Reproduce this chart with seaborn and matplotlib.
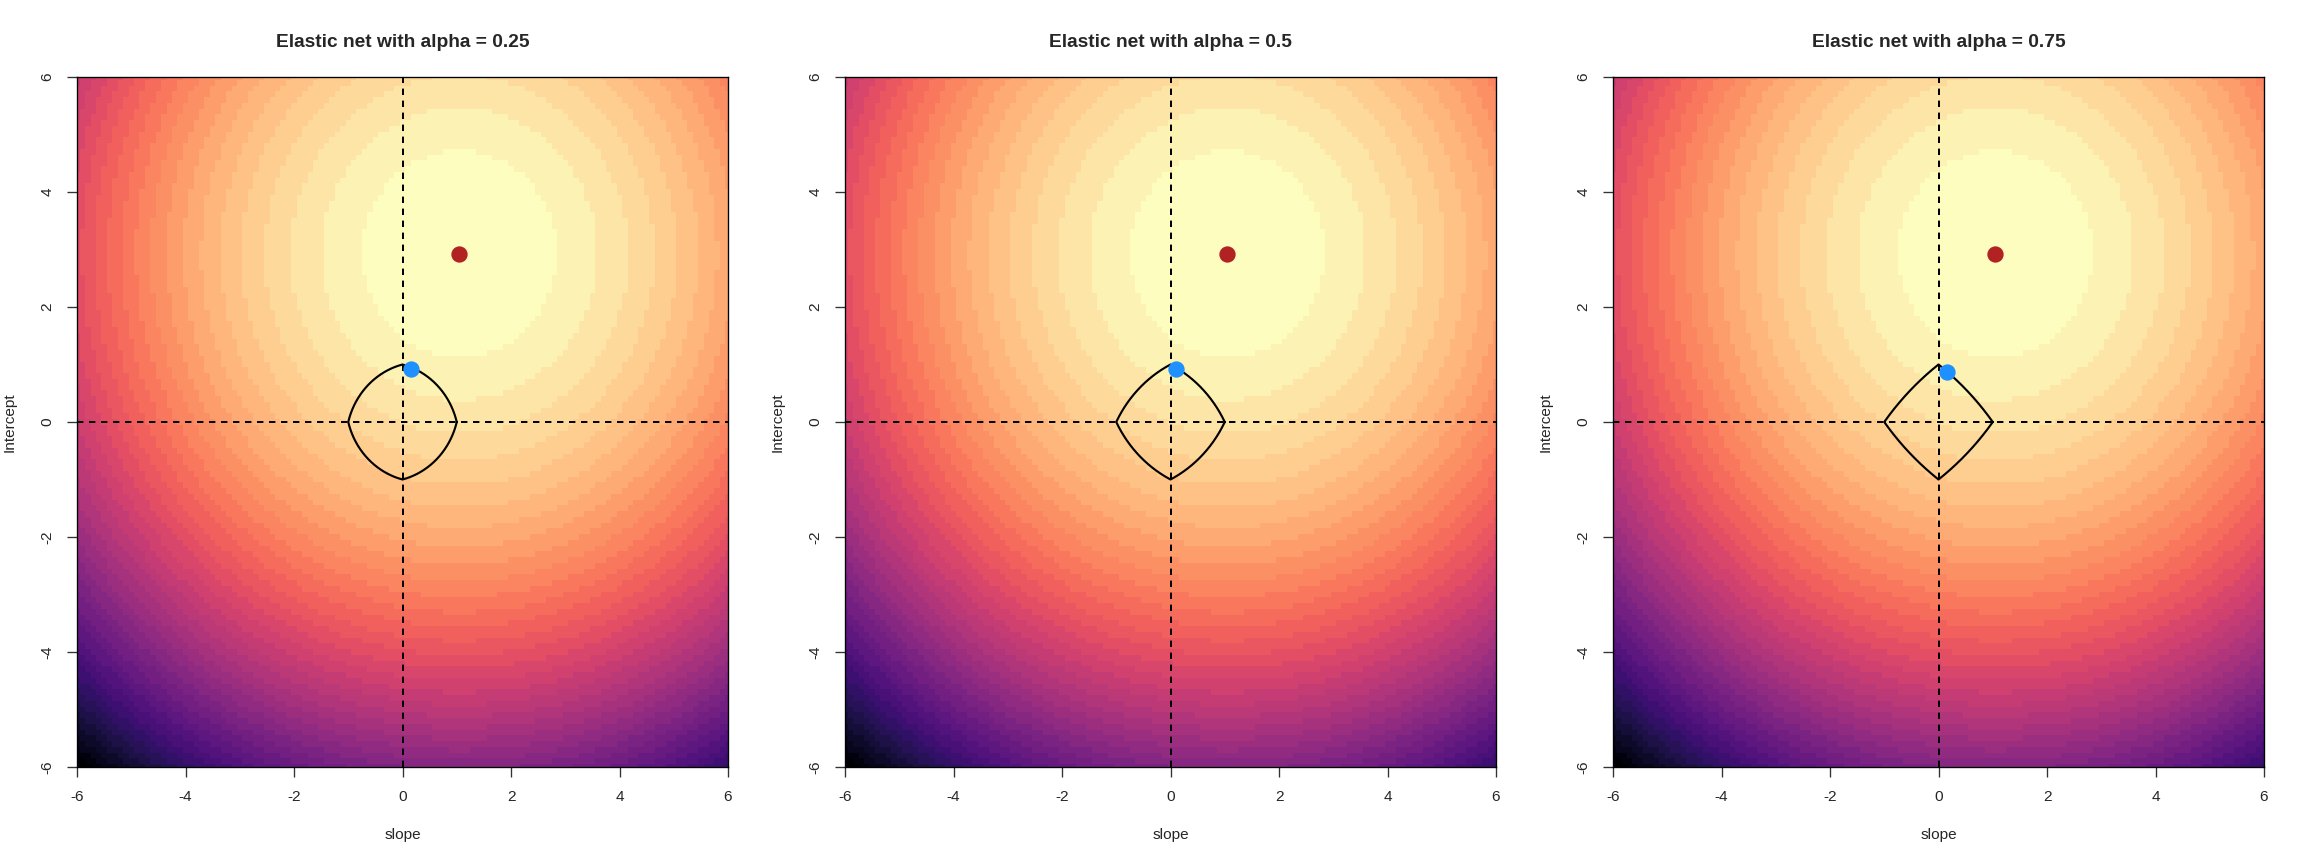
import numpy as np
import matplotlib
matplotlib.use("Agg")
import matplotlib.pyplot as plt
import seaborn as sns
from matplotlib.colors import ListedColormap, BoundaryNorm

# ---- data ----
slope_grid = np.round(np.arange(-6, 6.0001, 0.1), 2)
intercept_grid = np.round(np.arange(-6, 6.0001, 0.1), 2)
ols_slope = 1.05
ols_intercept = 2.92
alphas = [0.25, 0.5, 0.75]
enet_slope = [0.16, 0.10, 0.16]
enet_intercept = [0.93, 0.93, 0.87]
axis_ticks = [-6, -4, -2, 0, 2, 4, 6]
n_levels = 40
titles = ["Elastic net with alpha = 0.25", "Elastic net with alpha = 0.5",
          "Elastic net with alpha = 0.75"]

sns.set_style("white")
plt.rcParams["font.family"] = ["Liberation Sans", "DejaVu Sans"]

W, H = 2304, 864
fig = plt.figure(figsize=(W / 96, H / 96), dpi=96)

S, I = np.meshgrid(slope_grid, intercept_grid)
Z = (S - ols_slope) ** 2 + (I - ols_intercept) ** 2
magma = sns.color_palette("magma", as_cmap=True)
cmap = ListedColormap([magma(v) for v in np.linspace(0, 1, n_levels)][::-1])
norm = BoundaryNorm(np.linspace(Z.min(), Z.max(), n_levels + 1), n_levels)

theta = np.linspace(0, 2 * np.pi, 1441)
c = np.abs(np.cos(theta)) + np.abs(np.sin(theta))

for i, alpha in enumerate(alphas):
    left = (77 + 768 * i) / W
    ax = fig.add_axes([left, 97 / H, 651 / W, 690 / H])
    ax.pcolormesh(slope_grid, intercept_grid, Z, shading="nearest",
                  cmap=cmap, norm=norm, rasterized=True, zorder=0)
    ax.axhline(0, color="black", lw=1.5, ls=(0, (3.2, 2.8)), zorder=2)
    ax.axvline(0, color="black", lw=1.5, ls=(0, (3.2, 2.8)), zorder=2)

    a = (1 - alpha) / 2
    b = alpha * c
    s = alpha + a
    r = (-b + np.sqrt(b ** 2 + 4 * a * s)) / (2 * a)
    sns.lineplot(x=r * np.cos(theta), y=r * np.sin(theta), sort=False,
                 estimator=None, color="black", lw=1.6, ax=ax, zorder=3)
    sns.scatterplot(x=[ols_slope], y=[ols_intercept], color="#B22222", s=150,
                    linewidth=0, ax=ax, zorder=4)
    sns.scatterplot(x=[enet_slope[i]], y=[enet_intercept[i]], color="#1E90FF",
                    s=150, linewidth=0, ax=ax, zorder=4)

    ax.set_xlim(-6, 6)
    ax.set_ylim(-6, 6)
    ax.set_xticks(axis_ticks)
    ax.set_yticks(axis_ticks)
    ax.set_xticklabels([str(t) for t in axis_ticks])
    ax.set_yticklabels([str(t) for t in axis_ticks])
    ax.tick_params(axis="both", direction="out", length=7.5, width=1.0,
                   color="#333333", labelsize=11.5, pad=9.5, left=True,
                   bottom=True)
    ax.tick_params(axis="y", labelrotation=90)
    for lab in ax.get_yticklabels():
        lab.set_va("center")
    for sp in ax.spines.values():
        sp.set_visible(True)
        sp.set_color("black")
        sp.set_linewidth(1.0)
    ax.set_xlabel("slope", fontsize=11.5, labelpad=18)
    ax.set_ylabel("Intercept", fontsize=11.5, labelpad=18)
    ax.set_title(titles[i], fontsize=14.3, fontweight="bold", pad=22.5)

fig.savefig("out.png", dpi=96)
